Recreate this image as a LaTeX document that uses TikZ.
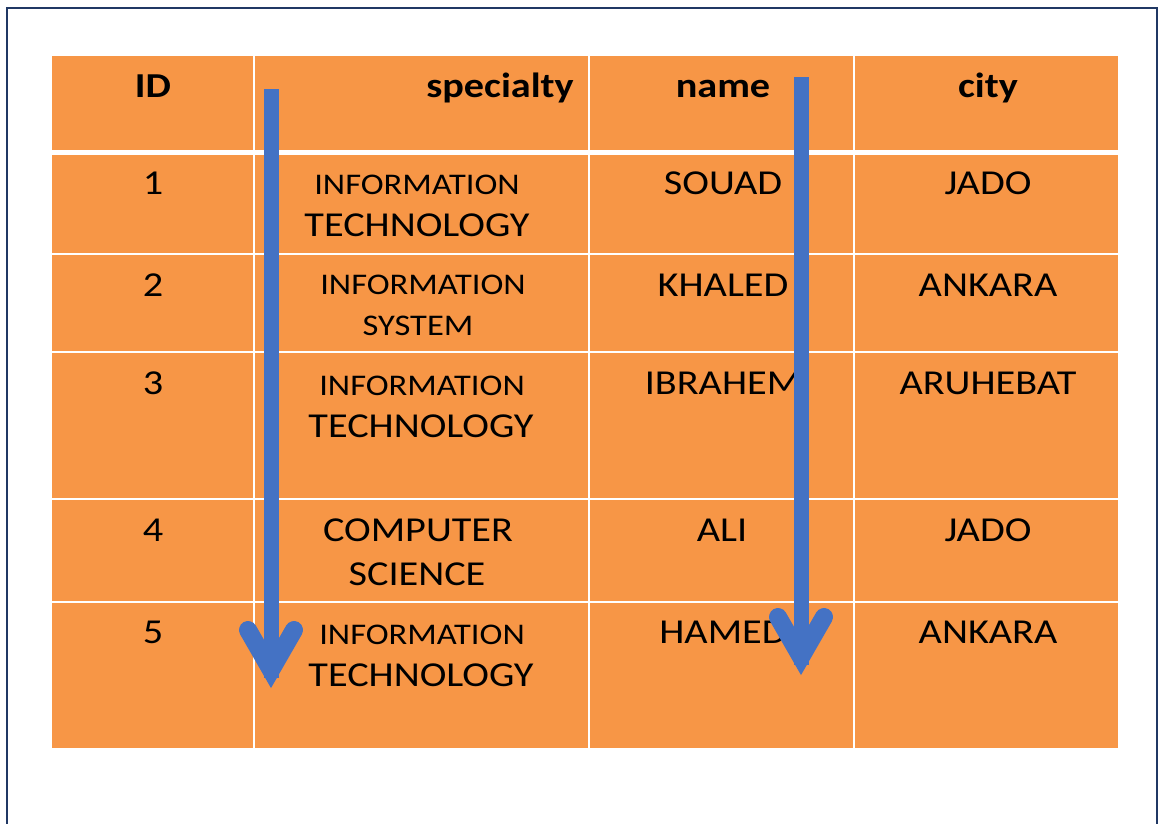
\documentclass[tikz,border=0pt]{standalone}
\usepackage{fontspec}
\setmainfont[FakeStretch=1.15]{Carlito}
\definecolor{cellorange}{HTML}{F79646}
\definecolor{arrowblue}{HTML}{4472C4}
\definecolor{framenavy}{HTML}{203864}
\tikzset{
  hdr/.style={anchor=base, inner sep=0pt, font=\fontsize{35}{35}\selectfont\bfseries},
  big/.style={anchor=base, inner sep=0pt, font=\fontsize{35}{35}\selectfont},
  small/.style={anchor=base, inner sep=0pt, font=\fontsize{30}{30}\selectfont},
  gridline/.style={white, line width=2pt},
  shaft/.style={arrowblue, line width=15pt},
  head/.style={arrowblue, line width=18pt, line cap=round, line join=miter}
}
\begin{document}
\begin{tikzpicture}[x=1pt,y=-1pt]
\useasboundingbox (0,0) rectangle (1158,823);
% page frame
\draw[framenavy, line width=2pt] (7,830) -- (7,8) -- (1157,8) -- (1157,830);
% table body
\fill[cellorange] (52,56) rectangle (1118,748);
\foreach \x in {254,589,854} \draw[gridline] (\x,56) -- (\x,748);
\foreach \y in {254,352,499,602} \draw[gridline] (52,\y) -- (1118,\y);
\draw[white, line width=5pt] (52,152) -- (1118,152);
% header
\node[hdr] (hID) at (153,97) {ID};
\node[hdr] (hSpec) at (500,97) {specialty};
\node[hdr] (hName) at (723,97) {name};
\node[hdr] (hCity) at (988,97) {city};
% row 1
\node[big] (id1) at (153,194) {1};
\node[small] (sp1a) at (417,194) {INFORMATION};
\node[big] (sp1b) at (417,236) {TECHNOLOGY};
\node[big] (nm1) at (723,194) {SOUAD};
\node[big] (ct1) at (988,194) {JADO};
% row 2
\node[big] (id2) at (153,296) {2};
\node[small] (sp2a) at (423,294) {INFORMATION};
\node[small] (sp2b) at (418,335) {SYSTEM};
\node[big] (nm2) at (723,296) {KHALED};
\node[big] (ct2) at (988,296) {ANKARA};
% row 3
\node[big] (id3) at (153,394) {3};
\node[small] (sp3a) at (422,395) {INFORMATION};
\node[big] (sp3b) at (421,437) {TECHNOLOGY};
\node[big] (nm3) at (723,394) {IBRAHEM};
\node[big] (ct3) at (988,394) {ARUHEBAT};
% row 4
\node[big] (id4) at (153,541) {4};
\node[big] (sp4a) at (418,541) {COMPUTER};
\node[big] (sp4b) at (417,585) {SCIENCE};
\node[big] (nm4) at (722,541) {ALI};
\node[big] (ct4) at (988,541) {JADO};
% row 5
\node[big] (id5) at (153,643) {5};
\node[small] (sp5a) at (422,644) {INFORMATION};
\node[big] (sp5b) at (421,686) {TECHNOLOGY};
\node[big] (nm5) at (723,643) {HAMED};
\node[big] (ct5) at (988,643) {ANKARA};
% downward arrows
\coordinate (a1top) at (271,89);
\coordinate (a1v) at (271,670);
\coordinate (a1l) at (248,630);
\coordinate (a1r) at (294,630);
\coordinate (a2top) at (801,77);
\coordinate (a2v) at (801,657);
\coordinate (a2l) at (778,617);
\coordinate (a2r) at (824,617);
\draw[shaft] (a1top) -- ([yshift=-8pt]a1v);
\draw[head] (a1l) -- (a1v) -- (a1r);
\draw[shaft] (a2top) -- ([yshift=-8pt]a2v);
\draw[head] (a2l) -- (a2v) -- (a2r);
\end{tikzpicture}
\end{document}
